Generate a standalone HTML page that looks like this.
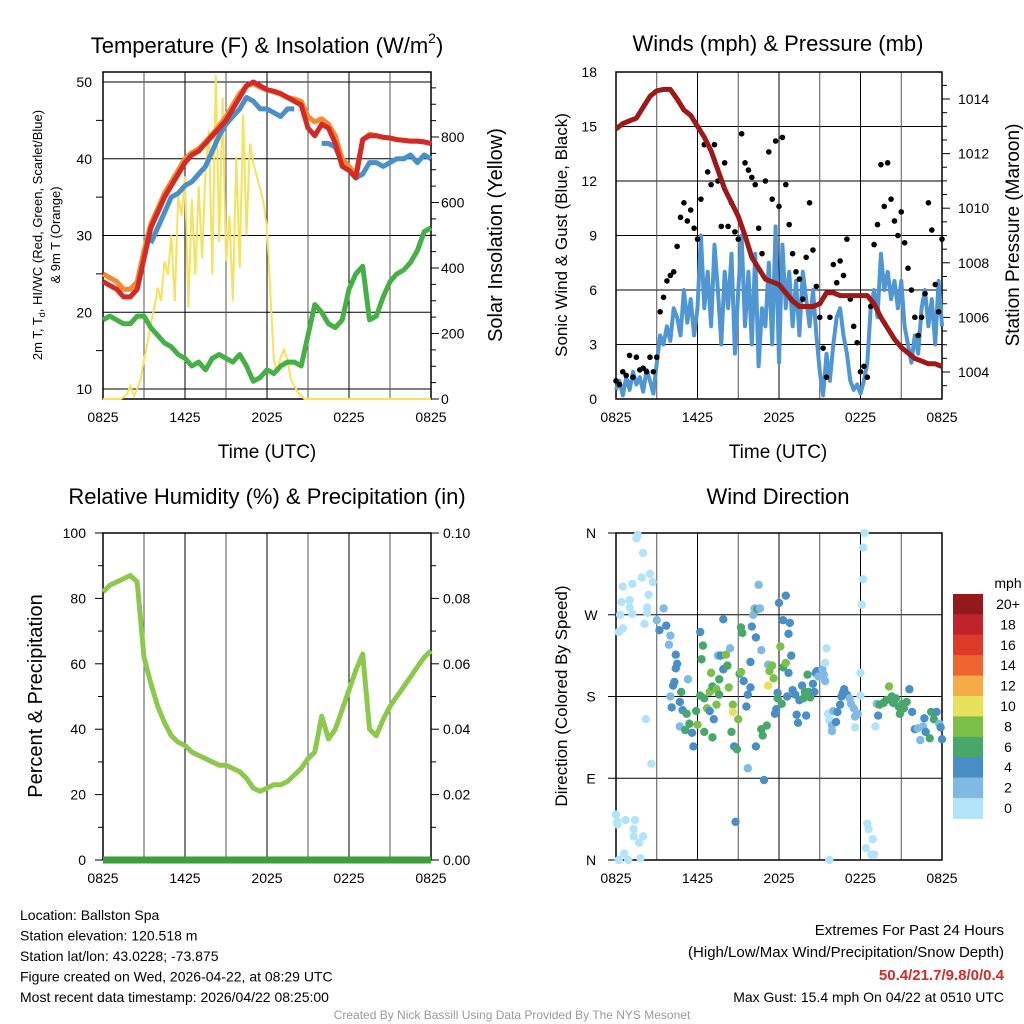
<!DOCTYPE html>
<html><head><meta charset="utf-8"><style>
body{margin:0;background:#fff;}
svg{display:block;font-family:"Liberation Sans",Arial,sans-serif;}
</style></head><body>
<svg id="c" width="1024" height="1024" viewBox="0 0 1024 1024"></svg>
<script>
// ---------- DATA ----------
const hours30 = [0,0.5,1,1.5,2,2.5,3,3.5,4,4.5,5,5.5,6,6.5,7,7.5,8,8.5,9,9.5,10,10.5,11,11.5,12,12.5,13,13.5,14,14.5,15,15.5,16,16.5,17,17.5,18,18.5,19,19.5,20,20.5,21,21.5,22,22.5,23,23.5,24];
const tempRed = [24,23.5,23,22,22,23,27,31,33,35,36.5,38,39.5,40.5,41,42,43,44,45,46.5,48,49.5,50,49.5,49,48.8,48.5,48,47.5,47,44,43,44.5,44,42,39,38.5,37.5,42.5,43,43,42.8,42.7,42.5,42.4,42.3,42.3,42.2,42];
const temp9mOrange = [25,24.5,24,23,23,24,28,31.5,33.5,35.5,37,38.5,40,40.8,41.3,42.2,43.2,44.3,45.5,47,48.5,49.5,49.8,49.3,49,48.7,48.4,48,47.8,47.5,45.5,44.8,45.2,44.5,43,40,39,38,42.5,43.2,43,42.8,42.7,42.5,42.4,42.3,42.3,42.2,42];
const windChillBlue = [null,null,null,null,null,null,null,29,31,33,35,35.5,36.5,37,38,39,41,43,44.5,45.5,46.5,48,47.5,46.5,46.5,46,45.5,46.5,46.5,null,null,null,42,42,41.5,39.5,38.5,37.5,38,39.5,39.5,39,39.5,40,40,40.5,39.5,40.5,40];
const dewGreen = [19,19.5,19,18.5,18.5,19.5,19.5,18,17,16,15.5,14.5,14,13,13.5,12.5,14,14.5,14,13.5,14.5,13,11,11.5,12.5,12,13,13.5,13.5,13,17,21,20,18.5,18,19,23,25,26,19,19.5,22,24,25,25.5,26.5,28,30.5,31];
const solarW = [0,0,0,0,0,0,5,15,40,10,30,60,120,170,230,280,340,300,420,380,500,300,620,560,680,280,610,380,650,430,700,820,380,990,480,920,420,560,300,740,400,870,500,780,720,680,640,600,520,320,120,80,130,150,120,60,40,20,10,0,0,0,0,0,0,0,0,0,0,0,0,0,0,0,0,0,0,0,0,0,0,0,0,0,0,0,0,0,0,0,0,0,0,0,0,0,0];
const sonicWind = [0.5,1,0.2,1.2,0.5,1.5,0.8,1.2,0.4,1.6,1,0.3,2,3.5,3,4,3.2,5,4.5,3.5,6,4.2,5.5,3.5,5,9,5,7,4,8.5,6,3,7,5,8,2.5,6,9,4,7,3,8,1.8,5,4,7.5,3,9.5,2,8.5,5,7,4,6.5,3.5,7,5.5,4,6,3.5,1.5,0.2,2.5,1,3,4.5,5,3.5,2.5,1,0.5,0.8,0.3,1,2,5,6,4.5,8,6,7,5.5,6.5,5,6.5,4,3,2,3.5,2.5,5,6,4,5.5,3,6.5,4];
const gusts = [1,0.8,1.5,1.3,2.4,1.2,2.3,1.6,1.7,1.5,2.3,1.5,2.3,4.8,5.6,6.5,6.8,7,8.4,10,10.8,9.8,10.4,9.4,8.8,11,14,12.5,11.8,14,12,9.5,13,9.5,10.8,9.2,8.8,14.6,13,12.6,12.2,11.8,9.4,8,12,13.6,11,14.2,10.6,14.4,11.8,9.6,8,7,6.6,5.5,7.8,10.8,8.2,6.2,4.5,2.8,1.2,4.5,7.4,6.4,7.6,6.8,8.8,5.5,4,3.1,1.5,1.8,1.2,5.1,8.5,9.6,12.9,10.6,13,11,9.8,9,10.3,8.6,7.2,6,4.5,3.5,4.5,5.8,10.8,9.3,6.3,4.8,8.8];
const pressure = [1012.9,1013.1,1013.2,1013.3,1013.7,1014.1,1014.3,1014.35,1014.35,1014.0,1013.6,1013.4,1013.0,1012.6,1012.1,1011.4,1010.7,1010.2,1009.7,1009.0,1008.2,1007.8,1007.4,1007.3,1007.2,1006.9,1006.6,1006.4,1006.4,1006.4,1006.5,1006.9,1006.9,1006.8,1006.8,1006.8,1006.8,1006.8,1006.5,1006.0,1005.6,1005.2,1004.9,1004.7,1004.5,1004.4,1004.3,1004.3,1004.2];
const rh = [82,84,85,86,87,85,62,54,47,42,38,36,35,33,32,31,30,29,29,28,27,25,22,21,22,23,23,24,26,28,31,33,44,37,40,46,52,58,63,40,38,43,47,50,53,56,59,62,64];
const precip = [0,0,0,0,0,0,0,0,0,0,0,0,0,0,0,0,0,0,0,0,0,0,0,0,0,0,0,0,0,0,0,0,0,0,0,0,0,0,0,0,0,0,0,0,0,0,0,0,0];
const dirHours = [1.6,1.5,2,0.5,1.2,1.9,2.5,2.7,0.4,1,1,0.3,1.2,2.4,2.3,2.3,2.1,0.5,0.2,2.2,2.6,0,0.1,0.1,0.7,1.4,1.3,1.3,2,1.7,0.6,0.9,0.2,1.8,3,3.5,3.2,3.7,4,3.9,4.4,4.5,4.4,4.3,4.2,4,4.1,4.7,4.8,4.9,5.2,4.7,5.1,5.4,5.6,5.7,5.9,6,6.2,6.5,5.3,6.2,6.4,6.3,7,6.9,6.7,6.9,7.1,7.2,6.5,7.1,7.4,7.4,7.6,7.6,7.5,7.7,7.9,7.9,8.1,8.2,8.3,8.4,8.6,8.6,8.5,8.7,8.9,9,8.8,9.1,9.2,9.2,9.3,9.4,9.6,9.7,9.7,9.9,9.9,10,10.1,10.2,10.3,10.3,10.4,10.5,10.6,10.7,10.7,10.8,10.9,11.1,11.2,11.2,11.3,11.5,11.6,11.7,11.8,11.9,11.9,12,12.1,12.2,12.3,12.3,12.5,12.5,12.6,12.7,12.7,12.8,12.9,13,13.2,13.3,13.4,13.5,13.7,13.8,13.9,14,14.1,14.2,14.3,14.5,14.6,14.7,14.8,14.9,15.2,15.3,15.4,15.5,15.4,15.6,15.7,15.9,15.9,15.7,16,16.2,16.3,16.5,16.6,16.7,16.8,17,17.2,17.3,17.5,17.6,17.6,17.8,18,18,18.3,18.2,18.2,18.1,18.5,18.6,18.9,18.4,18.8,19,19.2,19.1,19.3,19.4,19.7,19.9,20.1,20.3,20.4,20.6,20.8,20.9,21.1,21.2,21.4,21.6,21.8,22,22.2,22.4,22.6,22.7,22.8,23.1,23.2,23.4,23.6,23.8,23.9,24];
const dirDegrees = [358,354,338,301,304,311,315,306,284,286,278,270,271,292,278,272,260,255,251,155,106,50,42,39,44,44,34,26,26,19,7,0,0,2,264,277,253,258,247,237,226,216,211,196,192,180,168,174,185,165,161,147,143,150,140,125,164,149,181,178,199,251,236,221,206,185,167,164,191,155,141,135,188,171,199,182,225,225,265,210,226,214,190,233,171,163,141,125,122,155,42,205,207,256,250,197,169,101,182,190,218,257,270,277,245,125,276,303,277,231,144,137,88,148,215,192,208,214,200,161,166,184,178,283,235,172,212,264,291,217,180,206,249,261,225,187,182,160,151,176,192,178,185,159,204,185,179,194,185,206,208,202,210,204,197,233,217,161,154,148,142,0,164,152,163,171,180,184,188,182,178,172,167,158,146,161,206,181,360,344,309,281,40,34,23,13,6,6,172,147,159,171,173,176,191,180,173,178,169,161,172,167,174,188,163,144,145,132,147,156,141,134,163,155,163,150,146,133];
const dirSpeeds = [0,0,1,0,0,0,0,0,0,0,0,0,0,0,0,0,0,0,0,0,0,0,0,0,0,0,0,0,0,0,0,0,0,0,3,2,4,4,2,2,4,4,4,4,4,2,4,4,6,4,6,2,6,6,4,4,6,8,6,6,2,4,6,6,8,8,8,4,6,4,6,6,8,8,6,6,2,4,4,4,8,6,8,2,8,10,6,4,6,8,4,6,8,6,6,4,4,2,4,4,4,4,2,2,4,4,6,2,2,2,6,6,4,6,2,10,8,8,8,4,4,4,6,4,8,6,6,4,4,8,4,4,4,4,4,4,4,4,4,4,4,6,6,4,6,6,6,4,4,4,4,2,2,2,2,0,0,0,0,2,2,0,2,4,4,4,4,4,4,4,2,2,2,2,0,2,0,0,0,0,0,0,0,0,0,0,0,0,2,0,4,6,6,6,8,6,6,6,6,6,6,6,6,4,4,4,2,2,2,4,4,6,6,6,4,2,4,4];
const speedBinLabels = ["0","2","4","6","8","10","12","14","16","18","20+"];
const speedBinColors = ["#b3e3f8","#7fbae4","#4a8ec6","#4aa76c","#7cc04a","#e6e05a","#f6aa48","#ef6530","#de3a2c","#c0242a","#94191c"];
const xTickLabels = ["0825","1425","2025","0225","0825"];

// ---------- HELPERS ----------
const svg = document.getElementById('c');
const NS = 'http://www.w3.org/2000/svg';
function mk(tag, attrs, parent, text){
  const e = document.createElementNS(NS, tag);
  for (const k in attrs) e.setAttribute(k, attrs[k]);
  if (text !== undefined) e.textContent = text;
  (parent||svg).appendChild(e);
  return e;
}
function linScale(d0,d1,r0,r1){ return v => r0 + (v-d0)/(d1-d0)*(r1-r0); }
function pathFrom(xs, ys, xf, yf){
  let d='', pen=false;
  for (let i=0;i<xs.length;i++){
    if (ys[i]===null||ys[i]===undefined){pen=false;continue;}
    d += (pen?'L':'M') + xf(xs[i]).toFixed(1)+','+yf(ys[i]).toFixed(1);
    pen=true;
  }
  return d;
}
function frame(g, L, T, R, B, xs, hLines){
  hLines.forEach(y=>{ const l=mk('line',{x1:L,x2:R,y1:y,y2:y,stroke:'#000','stroke-width':1},g);   });
  for (let h=0; h<=24; h+=3){
    const x = xs(h);
    const l=mk('line',{x1:x,x2:x,y1:T,y2:B,stroke:h%6===0?'#000':'#555','stroke-width':1},g);
     
  }
  for (let i=0;i<xTickLabels.length;i++){
    const t=mk('text',{x:xs(i*6),y:B+23,'font-size':14,'text-anchor':'middle'},g,xTickLabels[i]);
     
  }
  const r=mk('rect',{x:L,y:T,width:R-L,height:B-T,fill:'none',stroke:'#000','stroke-width':1.5},g);
   
}
function label(g,x,y,txt,size,anchor,name,rot,extra){
  const a={x:x,y:y,'font-size':size,'text-anchor':anchor||'middle'};
  if (rot) a.transform='rotate(-90 '+x+' '+y+')';
  const t=mk('text',Object.assign(a,extra||{}),g,txt);
   
  return t;
}
const hours15 = sonicWind.map((_,i)=>i*0.25);

// ---------- PANEL 1 ----------
(function(){
  const g=mk('g',{});  
  const L=103,R=431,T=72,B=399;
  const x=linScale(0,24,L,R), y=linScale(10,50,389,82), ys=linScale(0,800,399,137);
  frame(g,L,T,R,B,x,[10,20,30,40,50].map(y));
  [10,20,30,40,50].forEach(v=>label(g,92,y(v)+5,String(v),14,'end','y-tick-label'));
  for(let v=15;v<50;v+=10){mk('line',{x1:L-7,x2:L,y1:y(v),y2:y(v),stroke:'#000'},g);}
  for(let v=0;v<=1000;v+=50){ if(ys(v)<T) break; const big=v%200===0; mk('line',{x1:R,x2:R+(big?8:5),y1:ys(v),y2:ys(v),stroke:'#000'},g);}
  [0,200,400,600,800].forEach(v=>label(g,441,ys(v)+5,String(v),14,'start','right-tick-label'));
  const sp=mk('path',{d:pathFrom(hours15,solarW,x,ys),fill:'none',stroke:'#f7e15a','stroke-width':2},g);
   
  const dg=mk('path',{d:pathFrom(hours30,dewGreen,x,y),fill:'none',stroke:'#45b045','stroke-width':5,'stroke-linejoin':'round'},g);
   
  const wb=mk('path',{d:pathFrom(hours30,windChillBlue,x,y),fill:'none',stroke:'#4a90c8','stroke-width':5,'stroke-linejoin':'round'},g);
   
  const o=mk('path',{d:pathFrom(hours30,temp9mOrange,x,y),fill:'none',stroke:'#f28a32','stroke-width':5,'stroke-linejoin':'round'},g);
   
  const r=mk('path',{d:pathFrom(hours30,tempRed,x,y),fill:'none',stroke:'#d42a26','stroke-width':5,'stroke-linejoin':'round'},g);
   
  const tt=label(g,267,53,'',22,'middle','panel-title-temperature');
  mk('tspan',{},tt,'Temperature (F) & Insolation (W/m');
  mk('tspan',{'font-size':14,dy:-10},tt,'2');
  mk('tspan',{dy:10},tt,')');
  label(g,267,458,'Time (UTC)',19,'middle','x-axis-title');
  const yt=label(g,42,235,'',13,'middle','y-axis-title-line1',true);
  mk('tspan',{},yt,'2m T, T');
  mk('tspan',{'font-size':9,dy:3},yt,'d');
  mk('tspan',{dy:-3},yt,', HI/WC (Red, Green, Scarlet/Blue)');
  label(g,60,235,'& 9m T (Orange)',13,'middle','y-axis-title-line2',true);
  label(g,502,235,'Solar Insolation (Yellow)',20,'middle','right-axis-title',true);
})();

// ---------- PANEL 2 ----------
(function(){
  const g=mk('g',{});  
  const L=616,R=942,T=72,B=399;
  const x=linScale(0,24,L,R), y=linScale(0,18,399,72), yp=linScale(1004,1014,372,99);
  frame(g,L,T,R,B,x,[3,6,9,12,15,18].map(y));
  [0,3,6,9,12,15,18].forEach(v=>label(g,597,y(v)+5,String(v),14,'end','y-tick-label'));
  for(let p=1003.5;p<=1015;p+=0.5){ const yy=yp(p); if(yy<T||yy>B) continue; const big=p%2===0; mk('line',{x1:R,x2:R+(big?8:5),y1:yy,y2:yy,stroke:'#000'},g);}
  [1004,1006,1008,1010,1012,1014].forEach(v=>label(g,958,yp(v)+5,String(v),14,'start','right-tick-label'));
  const w=mk('path',{d:pathFrom(hours15,sonicWind,x,y),fill:'none',stroke:'#4f96d2','stroke-width':4,'stroke-linejoin':'round'},g);
   
  for(let i=0;i<gusts.length;i++){
    const c=mk('circle',{cx:x(hours15[i]),cy:y(gusts[i]),r:2.8,fill:'#000'},g);
     
  }
  const p=mk('path',{d:pathFrom(hours30,pressure,x,yp),fill:'none',stroke:'#9c1a1a','stroke-width':5,'stroke-linejoin':'round'},g);
   
  label(g,778,51,'Winds (mph) & Pressure (mb)',22,'middle','panel-title-winds');
  label(g,778,458,'Time (UTC)',19,'middle','x-axis-title');
  label(g,567,235,'Sonic Wind & Gust (Blue, Black)',17,'middle','y-axis-title',true);
  label(g,1019,235,'Station Pressure (Maroon)',19,'middle','right-axis-title',true);
})();

// ---------- PANEL 3 ----------
(function(){
  const g=mk('g',{});  
  const L=103,R=431,T=533,B=860;
  const x=linScale(0,24,L,R), y=linScale(0,100,860,533), yr=linScale(0,0.1,860,533);
  frame(g,L,T,R,B,x,[]);
  [0,20,40,60,80,100].forEach(v=>label(g,86,y(v)+5,String(v),14,'end','y-tick-label'));
  for(let v=0;v<=100;v+=10){ mk('line',{x1:L-(v%20===0?8:5),x2:L,y1:y(v),y2:y(v),stroke:'#000'},g); mk('line',{x1:R,x2:R+(v%20===0?8:5),y1:y(v),y2:y(v),stroke:'#000'},g);}
  ['0.00','0.02','0.04','0.06','0.08','0.10'].forEach(s=>label(g,443,yr(parseFloat(s))+5,s,14,'start','right-tick-label'));
  const h=mk('path',{d:pathFrom(hours30,rh,x,y),fill:'none',stroke:'#8cc84b','stroke-width':5,'stroke-linejoin':'round'},g);
   
  const pr=mk('path',{d:pathFrom(hours30,precip,x,yr),fill:'none',stroke:'#3e9e3e','stroke-width':7},g);
   
  label(g,267,504,'Relative Humidity (%) & Precipitation (in)',22,'middle','panel-title-humidity');
  label(g,42,696,'Percent & Precipitation',20,'middle','y-axis-title',true);
})();

// ---------- PANEL 4 ----------
(function(){
  const g=mk('g',{});  
  const L=616,R=942,T=533,B=860;
  const x=linScale(0,24,L,R), y=linScale(0,360,860,533);
  frame(g,L,T,R,B,x,[90,180,270,360,0].map(y));
  [['N',0],['E',90],['S',180],['W',270],['N',360]].forEach(a=>{ mk('line',{x1:L-8,x2:L,y1:y(a[1]),y2:y(a[1]),stroke:'#000'},g); label(g,591,y(a[1])+5,a[0],14,'middle','y-tick-label');});
  for(let i=0;i<dirHours.length;i++){
    const bin=Math.min(10,Math.floor(dirSpeeds[i]/2));
    const c=mk('circle',{cx:x(dirHours[i]),cy:y(dirDegrees[i]),r:4.2,fill:speedBinColors[bin]},g);
     
  }
  label(g,778,504,'Wind Direction',22,'middle','panel-title-direction');
  label(g,567,696,'Direction (Colored By Speed)',17,'middle','y-axis-title',true);
  const leg=mk('g',{},g);  
  label(leg,1008,588,'mph',14,'middle','legend-title');
  const top=594, bh=20.4;
  for(let i=0;i<speedBinColors.length;i++){
    const k=speedBinColors.length-1-i;
    const r=mk('rect',{x:953,y:top+i*bh,width:30,height:bh+0.5,fill:speedBinColors[k]},leg);
     
    label(leg,1008,top+i*bh+15,speedBinLabels[k],14,'middle','legend-label');
  }
})();

// ---------- FOOTER ----------
(function(){
  const g=mk('g',{});  
  ['Location: Ballston Spa','Station elevation: 120.518 m','Station lat/lon: 43.0228; -73.875','Figure created on Wed, 2026-04-22, at 08:29 UTC','Most recent data timestamp: 2026/04/22 08:25:00'].forEach((s,i)=>label(g,20,920+i*20.5,s,14,'start','station-info'));
  label(g,1004,935,'Extremes For Past 24 Hours',15,'end','extremes-title');
  label(g,1004,957,'(High/Low/Max Wind/Precipitation/Snow Depth)',15,'end','extremes-subtitle');
  label(g,1004,980,'50.4/21.7/9.8/0/0.4',15,'end','extremes-values',false,{fill:'#d42a26','font-weight':'bold'});
  label(g,1004,1002,'Max Gust: 15.4 mph On 04/22 at 0510 UTC',14,'end','max-gust');
  label(g,512,1019,'Created By Nick Bassill Using Data Provided By The NYS Mesonet',12,'middle','credit',false,{fill:'#999'});
})();
</script>
</body></html>
